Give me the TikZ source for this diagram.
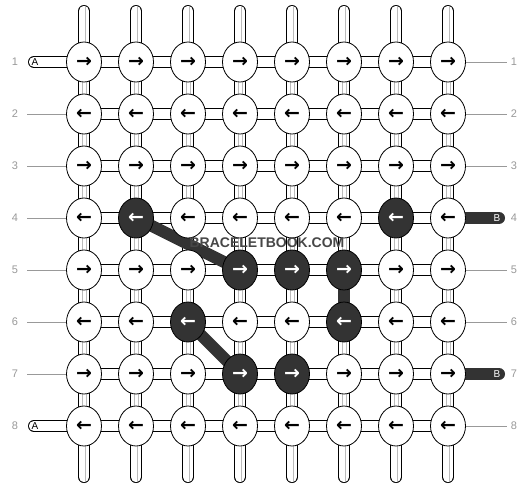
\documentclass[tikz,border=0pt]{standalone}
\usepackage{fontspec}
\setmainfont{Liberation Sans}
\newfontfamily\arrowfont{DejaVu Sans}
\usetikzlibrary{shapes.geometric}
\definecolor{dk}{HTML}{333333}
\definecolor{lbl}{HTML}{999999}
\definecolor{strand}{HTML}{BBBBBB}
\pgfdeclarelayer{bg}
\pgfsetlayers{bg,main}
\begin{document}
\begin{tikzpicture}[x=1pt,y=-1pt,
  knot/.style={ellipse, draw=black, line width=0.8pt, fill=white,
    minimum width=35pt, minimum height=40pt, inner sep=0pt,
    font=\arrowfont\bfseries\fontsize{19}{19}\selectfont},
  dknot/.style={knot, fill=dk, text=white},
  k2-4/.style={dknot}, k7-4/.style={dknot},
  k4-5/.style={dknot}, k5-5/.style={dknot}, k6-5/.style={dknot},
  k3-6/.style={dknot}, k6-6/.style={dknot},
  k4-7/.style={dknot}, k5-7/.style={dknot},
  conn/.style={line width=0.8pt, draw=black, double=white, double distance=10.4pt},
  strandline/.style={draw=strand, line width=0.6pt},
  darkband/.style={draw=dk, line width=12pt},
  rowlbl/.style={text=lbl, font=\fontsize{11}{11}\selectfont, inner sep=0pt},
  tiplbl/.style={font=\fontsize{10}{10}\selectfont, inner sep=0pt},
  guide/.style={draw=lbl, line width=0.6pt}]
\useasboundingbox (0,0) rectangle (532,488);
% knots
\foreach \r in {1,...,8} {
  \foreach \c in {1,...,8} {
    \node[knot, k\c-\r/.try] (n\c-\r) at ({84+52*(\c-1)},{62+52*(\r-1)})
      {\ifodd\r →\else ←\fi};
  }
}
\begin{pgfonlayer}{bg}
  \fill[white] (0,0) rectangle (532,488);
  % top and bottom strands
  \foreach \c in {1,...,8} {
    \coordinate (t\c) at ({84+52*(\c-1)},11);
    \coordinate (tg\c) at ({85+52*(\c-1)},7);
    \coordinate (b\c) at ({84+52*(\c-1)},477);
    \coordinate (bg\c) at ({85+52*(\c-1)},481);
    \draw[conn, line cap=round] (t\c) -- (n\c-1.center);
    \draw[strandline] (tg\c) -- ([xshift=1pt]n\c-1.center);
    \draw[conn, line cap=round] (b\c) -- (n\c-8.center);
    \draw[strandline] (bg\c) -- ([xshift=1pt]n\c-8.center);
  }
  % horizontal connectors
  \foreach \r in {1,...,8} {
    \foreach \c [count=\cc from 2] in {1,...,7} {
      \draw[conn] (n\c-\r.center) -- (n\cc-\r.center);
    }
  }
  % vertical connectors
  \foreach \c in {1,...,8} {
    \foreach \r [count=\rr from 2] in {1,...,7} {
      \draw[conn] (n\c-\r.center) -- (n\c-\rr.center);
      \draw[strandline] ([xshift=-2pt]n\c-\r.center) -- ([xshift=-2pt]n\c-\rr.center);
      \draw[strandline] ([xshift=2pt]n\c-\r.center) -- ([xshift=2pt]n\c-\rr.center);
    }
  }
  % dark thread
  \draw[darkband] (n2-4.center) -- (n4-5.center);
  \draw[darkband] (n6-5.center) -- (n6-6.center);
  \draw[darkband] (n3-6.center) -- (n4-7.center);
  % left A tails
  \foreach \r in {1,8} {
    \coordinate (a\r) at (34,{62+52*(\r-1)});
    \draw[conn, line cap=round] (a\r) -- (n1-\r.center);
  }
  % right B tails
  \foreach \r in {4,7} {
    \coordinate (bb\r) at (499,{62+52*(\r-1)});
    \draw[darkband, line cap=round] (bb\r) -- (n8-\r.center);
  }
\end{pgfonlayer}
% tail letters
\node[tiplbl] (la1) at (35,62) {A};
\node[tiplbl] (la8) at (35,426) {A};
\node[tiplbl, text=white] (lb4) at (497,218) {B};
\node[tiplbl, text=white] (lb7) at (497,374) {B};
% row labels and guide lines
\foreach \r in {1,...,8} {
  \node[rowlbl] (L\r) at (15,{62+52*(\r-1)}) {\r};
  \node[rowlbl] (R\r) at (514,{62+52*(\r-1)}) {\r};
}
\foreach \r in {2,...,7} {
  \coordinate (gl\r) at (27,{62+52*(\r-1)});
  \draw[guide] (gl\r) -- (n1-\r.west);
}
\foreach \r in {1,2,3,5,6,8} {
  \coordinate (gr\r) at (507,{62+52*(\r-1)});
  \draw[guide] (n8-\r.east) -- (gr\r);
}
% watermark
\node[text=dk!90, font=\bfseries\fontsize{14}{14}\selectfont, inner sep=0pt] (wm) at (267,243) {BRACELETBOOK.COM};
\end{tikzpicture}
\end{document}
